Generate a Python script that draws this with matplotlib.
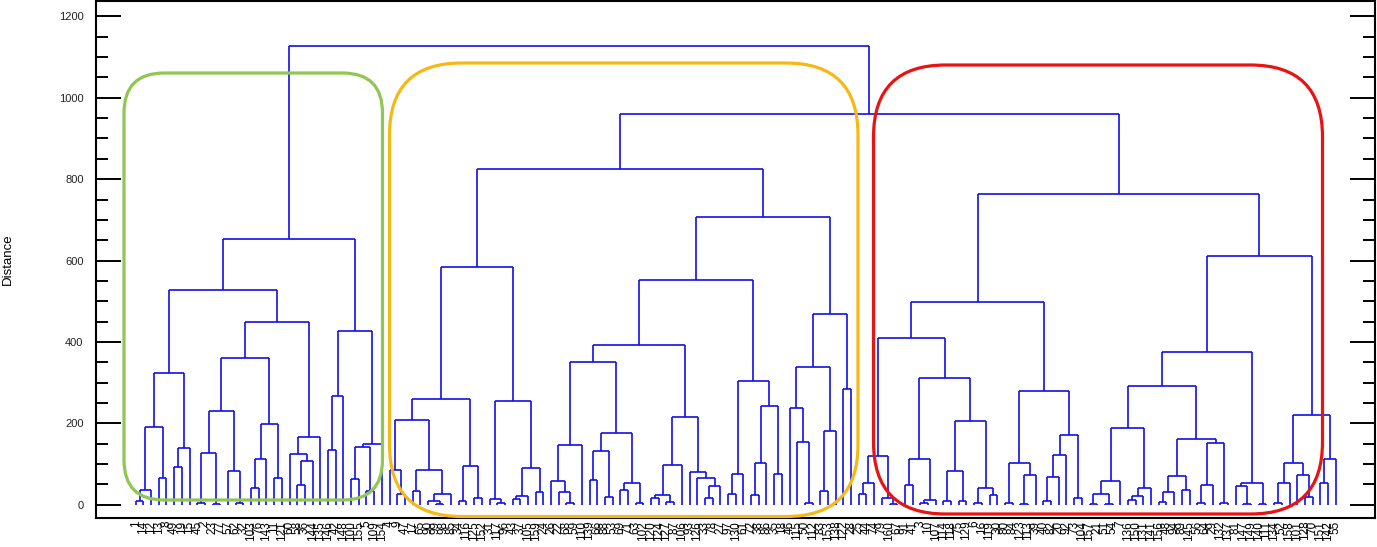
import matplotlib
matplotlib.use("Agg")
import matplotlib.pyplot as plt
from matplotlib.collections import LineCollection
from matplotlib.patches import FancyBboxPatch
from matplotlib.ticker import MultipleLocator

plt.rcParams['font.family'] = ['Liberation Sans', 'DejaVu Sans']

# merge heights of the three top level joins
root_height = 1128
split_height = 961

# sub-trees, written newick style: x = leaf, number after ")" = merge distance
g_a = "((((x,x)9,x)37,(x,x)66)191,((x,x)93,x)139)324"
g_b = "(((x,x)3,(x,x)1)128,(x,(x,x)5)83)229"
g_c = "(((x,x)41,x)111,(x,x)66)197"
g_d = "((x,((x,x)48,x)107)125,x)166"
g_e = "(((x,x)134,x)267,(((x,x)62,(x,x)33)142,x)148)427"
green_tree = f"(({g_a},(({g_b},{g_c})361,{g_d})449)527,{g_e})654"

o_a = "((x,(x,x)26)86,((x,x)34,((x,(x,x)2)9,x)27)86)209"
o_b = "((x,x)9,(x,x)17)94"
o_c = "((x,(x,x)4)13,(((x,x)13,x)21,(x,x)31)91)255"
o_d = "(((x,(x,(x,x)4)31)58,x)146,(((x,x)61,(x,x)19)131,((x,x)37,(x,x)5)52)176)350"
o_e = "((((x,x)17,(x,x)6)24,x)98,(x,(x,((x,x)17,x)45)66)79)215"
o_f = "(((x,x)25,x)76,(((x,x)24,x)101,(x,x)76)243)303"
o_g = "(((x,(x,(x,x)3)155)237,((x,x)34,x)180)337,(x,x)285)469"
orange_tree = f"((({o_a},{o_b})260,{o_c})583,((({o_d},{o_e})393,{o_f})551,{o_g})708)826"

r_a = ("((((x,x)27,x)54,(x,(x,x)1)15)119,(((x,x)48,((x,x)4,x)12)111,"
       "(((x,x)8,(x,x)8)83,((x,x)3,(x,x)23)41)205)312)410")
r_b = "(((x,x)3,((x,x)1,x)72)101,((((x,x)8,x)68,x)121,(x,x)17)170)279"
r_c = ("(((((x,x)1,(x,x)2)27,x)59,(((x,x)12,x)21,x)41)188,"
       "((((x,x)7,x)31,(x,x)37)70,(((x,x)3,x)49,(x,x)4)152)160)291")
r_d = "((x,(x,x)1)45,(x,x)1)54"
r_e = "((((x,x)5,x)54,(x,(x,x)19)72)103,((x,x)52,x)113)221"
red_tree = f"(({r_a},{r_b})498,(({r_c},{r_d})375,{r_e})610)764"

green_labels = ("1 14 12 13 8 49 19 15 45 2 23 77 57 62 32 103 76 143 11 121 60 58 36 144 "
                "135 146 42 148 100 155 5 109 154").split()
orange_labels = ("4 9 47 17 65 90 99 98 85 34 116 125 152 31 117 96 43 37 105 159 24 26 22 68 "
                 "59 110 139 66 88 53 69 71 63 102 120 124 127 87 106 93 126 33 78 27 97 130 "
                 "61 72 38 86 35 18 46 115 50 112 83 153 138 122 28").split()
red_labels = ("25 44 74 79 160 67 91 41 3 10 107 114 118 75 129 6 16 119 30 80 84 123 113 39 "
              "40 82 20 92 73 104 157 21 51 54 7 136 150 131 141 156 48 94 89 145 56 64 29 "
              "132 137 81 147 149 140 111 134 52 158 101 128 70 151 142 55").split()


def parse_tree(s):
    pos = 0

    def node():
        nonlocal pos
        if s[pos] == '(':
            pos += 1
            kids = [node()]
            while s[pos] == ',':
                pos += 1
                kids.append(node())
            pos += 1
            start = pos
            while pos < len(s) and s[pos] not in ',()':
                pos += 1
            return float(s[start:pos]), kids
        pos += 1
        return None
    return node()


tree = (root_height, [parse_tree(green_tree),
                      (split_height, [parse_tree(orange_tree), parse_tree(red_tree)])])

segments = []
n_leaf = [0]


def layout(nd):
    if nd is None:
        x = n_leaf[0]
        n_leaf[0] += 1
        return x, 0.0
    h, kids = nd
    pts = [layout(k) for k in kids]
    for x, y in pts:
        segments.append([(x, y), (x, h)])
    xs = [p[0] for p in pts]
    segments.append([(min(xs), h), (max(xs), h)])
    return sum(xs) / len(xs), h


layout(tree)
n = n_leaf[0]
labels = green_labels + orange_labels + red_labels
labels = (labels + [str(i) for i in range(len(labels) + 1, n + 1)])[:n]

fig = plt.figure(figsize=(13.77, 5.47), dpi=100)
ax = fig.add_axes([96 / 1377, 29 / 547, 1279 / 1377, 517 / 547])

ax.add_collection(LineCollection(segments, colors='#1010e6', linewidths=1.2))

step = 1200 / (n - 1)
ax.set_xlim(-39.7 / step, (1279 - 39.7) / step)
ax.set_ylim(-33, 1238)

ax.set_xticks(range(n))
ax.set_xticklabels(labels, rotation=90, fontsize=8.5, va='top', ha='center')
ax.tick_params(axis='x', length=0, pad=2)

ax.yaxis.set_major_locator(MultipleLocator(200))
ax.yaxis.set_minor_locator(MultipleLocator(50))
ax.tick_params(axis='y', which='major', direction='in', length=18, width=1.4,
               right=True, labelsize=8, labelcolor='#222222', pad=9)
ax.tick_params(axis='y', which='minor', direction='in', length=8.5, width=1.4, right=True)
for sp in ax.spines.values():
    sp.set_linewidth(1.5)

fig.text(7.5 / 1377, 1 - 259 / 547, 'Distance', rotation=90, ha='center', va='center',
         fontsize=9.5)

# highlight boxes, drawn in pixel space on a transparent overlay
over = fig.add_axes([0, 0, 1, 1])
over.set_xlim(0, 1377)
over.set_ylim(547, 0)
over.axis('off')
boxes = [(124, 73, 382.5, 500, 40, '#8fc750'),
         (389.5, 63, 858, 516.5, 72, '#f6b913'),
         (873.5, 65, 1322.5, 514, 72, '#e81313')]
for x0, y0, x1, y1, r, col in boxes:
    over.add_patch(FancyBboxPatch((x0, y0), x1 - x0, y1 - y0,
                                  boxstyle=f"round,pad=0,rounding_size={r}",
                                  fill=False, edgecolor=col, linewidth=2.3))

fig.savefig('out.png', dpi=100)
